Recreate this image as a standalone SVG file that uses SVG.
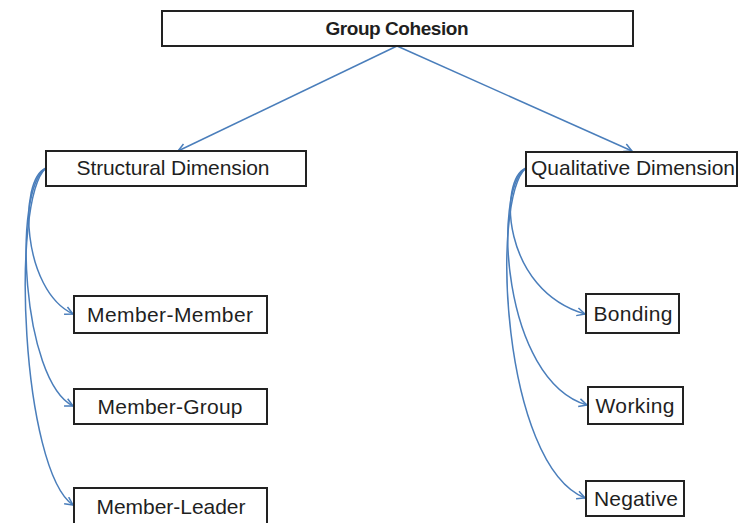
<svg xmlns="http://www.w3.org/2000/svg" width="740" height="523" viewBox="0 0 740 523">
<defs>
<marker id="arr" viewBox="0 0 10 10" refX="9" refY="5" markerWidth="10" markerHeight="10" markerUnits="userSpaceOnUse" orient="auto">
<path d="M1,1 L9,5 L1,9" fill="none" stroke="#4a7ebb" stroke-width="1.5"/>
</marker>
<style>
.box{fill:#fff;stroke:#222;stroke-width:2}
.t{font-family:"Liberation Sans",Arial,sans-serif;font-size:21px;fill:#1f1f1f;text-anchor:middle}
.b{font-weight:bold;font-size:19px}
.c{fill:none;stroke:#4a7ebb;stroke-width:1.5;marker-end:url(#arr)}
</style>
</defs>
<rect width="740" height="523" fill="#fff"/>
<g id="connectors">
<path class="c" d="M397,46 L178,151"/>
<path class="c" d="M397,46 L632,151"/>
<path class="c" d="M46,168 C18,180 22,290 73,314"/>
<path class="c" d="M46,168 C12,190 22,380 73,406"/>
<path class="c" d="M46,168 C10,200 22,470 73,505"/>
<path class="c" d="M526,168 C498,180 502,290 585,314"/>
<path class="c" d="M526,168 C492,190 502,380 587,405"/>
<path class="c" d="M526,168 C490,200 502,465 585,498"/>
</g>
<g id="group-cohesion"><rect class="box" x="162" y="11" width="471" height="35"/><text class="t b" x="397" y="35" textLength="143">Group Cohesion</text></g>
<g id="structural"><rect class="box" x="46" y="151" width="260" height="35"/><text class="t" x="173" y="175" textLength="193">Structural Dimension</text></g>
<g id="qualitative"><rect class="box" x="526" y="152" width="211" height="34"/><text class="t" x="633" y="175" textLength="204">Qualitative Dimension</text></g>
<g id="member-member"><rect class="box" x="74" y="296" width="193" height="37"/><text class="t" x="170" y="322" textLength="166">Member-Member</text></g>
<g id="member-group"><rect class="box" x="74" y="389" width="193" height="35"/><text class="t" x="170" y="414" textLength="145">Member-Group</text></g>
<g id="member-leader"><rect class="box" x="74" y="488" width="193" height="40"/><text class="t" x="171" y="514" textLength="149">Member-Leader</text></g>
<g id="bonding"><rect class="box" x="586" y="294" width="93" height="39"/><text class="t" x="633" y="321" textLength="79">Bonding</text></g>
<g id="working"><rect class="box" x="588" y="387" width="95" height="37"/><text class="t" x="635" y="413" textLength="79">Working</text></g>
<g id="negative"><rect class="box" x="586" y="481" width="98" height="35"/><text class="t" x="636" y="506" textLength="84">Negative</text></g>
</svg>
